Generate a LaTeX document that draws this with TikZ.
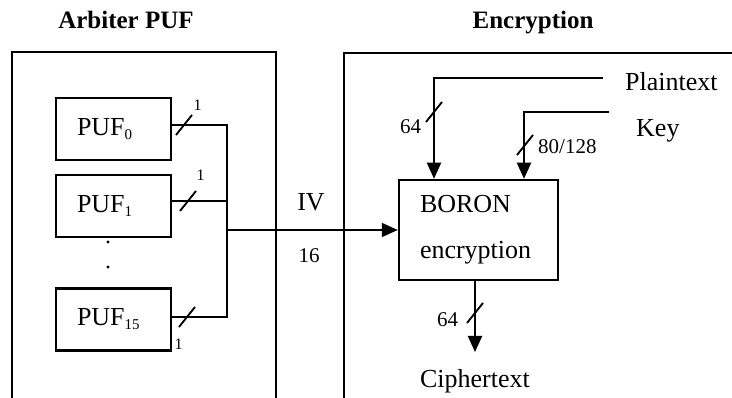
\documentclass[tikz,border=0pt]{standalone}
\usepackage{fontspec}
\setmainfont{Liberation Serif}
\usetikzlibrary{arrows.meta}
\newcommand{\pufsub}[1]{\raisebox{-4pt}{\fontsize{15}{15}\selectfont #1}}
\begin{document}
\begin{tikzpicture}[x=1pt,y=-1pt,
  wire/.style={line width=2pt},
  frame/.style={line width=2.5pt},
  blk/.style={draw,line width=2.5pt,rectangle,align=left,
    font=\fontsize{26}{46}\selectfont},
  arr/.style={wire,-{Triangle[length=16pt,width=14pt]}},
  big/.style={font=\fontsize{26}{30}\selectfont},
  wlab/.style={font=\fontsize{21}{24}\selectfont},
  one/.style={font=\fontsize{16}{18}\selectfont},
  ttl/.style={font=\fontsize{25}{30}\selectfont\bfseries},
  tick/.style={line width=1.8pt}
]
\useasboundingbox (0,0) rectangle (732,398);

% section titles
\node[ttl,anchor=base] (t1) at (126,29) {Arbiter PUF};
\node[ttl,anchor=base] (t2) at (533,29) {Encryption};

% open frames of the two sections
\draw[frame] (12,398) -- (12,52) -- (276,52) -- (276,398);
\draw[frame] (344,398) -- (344,53) -- (732,53);

% PUF blocks
\node[blk,text width=73pt,inner xsep=21pt,minimum height=62pt] (p0) at (113.5,129) {PUF\pufsub{0}};
\node[blk,text width=73pt,inner xsep=21pt,minimum height=62pt] (p1) at (113.5,206) {PUF\pufsub{1}};
\node[blk,text width=73pt,inner xsep=21pt,minimum height=62pt] (p15) at (113.5,319.5) {PUF\pufsub{15}};
\fill (108,242) circle (1.6pt);
\fill (108,267) circle (1.6pt);

% BORON block
\node[blk,text width=117pt,inner xsep=21pt,minimum height=100pt] (enc) at (478.5,230) {BORON\\encryption};

% bus collecting the PUF bits
\coordinate (j0) at (227,125);
\coordinate (j1) at (227,201);
\coordinate (j15) at (227,317);
\coordinate (jm) at (227,230);
\draw[wire] ([yshift=4pt]p0.east) -- (j0) -- (j15) -- ([yshift=2.5pt]p15.east);
\draw[wire] ([yshift=5pt]p1.east) -- (j1);
\draw[arr] (jm) -- (enc.west);

\draw[tick] (184,125) ++(-8,10) -- ++(16,-20);
\draw[tick] (188,201) ++(-8,10) -- ++(16,-20);
\draw[tick] (187,317) ++(-8,10) -- ++(16,-20);
\node[one,anchor=base] (w0) at (197.5,110.7) {1};
\node[one,anchor=base] (w1) at (200.5,180.7) {1};
\node[one,anchor=base] (w15) at (178.5,350) {1};

\node[big,anchor=base] (iv) at (311,210.7) {IV};
\node[wlab,anchor=base] (n16) at (309,263) {16};

% plaintext and key inputs
\node[big,anchor=base west,inner sep=0pt] (pt) at (625,90.7) {Plaintext};
\node[big,anchor=base west,inner sep=0pt] (ky) at (636,136.7) {Key};
\coordinate (pte) at (603,78);
\coordinate (kye) at (609,112);
\draw[arr] (pte) -| ([xshift=-44.5pt]enc.north);
\draw[arr] (kye) -| ([xshift=45.5pt]enc.north);
\draw[tick] (434,112) ++(-8,10) -- ++(16,-20);
\draw[tick] (525,145) ++(-8,10) -- ++(16,-20);
\node[wlab,anchor=base west,inner sep=0pt] (w64a) at (400,134) {64};
\node[wlab,anchor=base west,inner sep=0pt] (w80) at (538,154) {80/128};

% ciphertext output
\node[big,anchor=base] (ct) at (475,388) {Ciphertext};
\coordinate (cte) at (475,352);
\draw[arr] ([xshift=-3.5pt]enc.south) -- (cte);
\draw[tick] (475,313) ++(-8,10) -- ++(16,-20);
\node[wlab,anchor=base west,inner sep=0pt] (w64b) at (437,327) {64};
\end{tikzpicture}
\end{document}
